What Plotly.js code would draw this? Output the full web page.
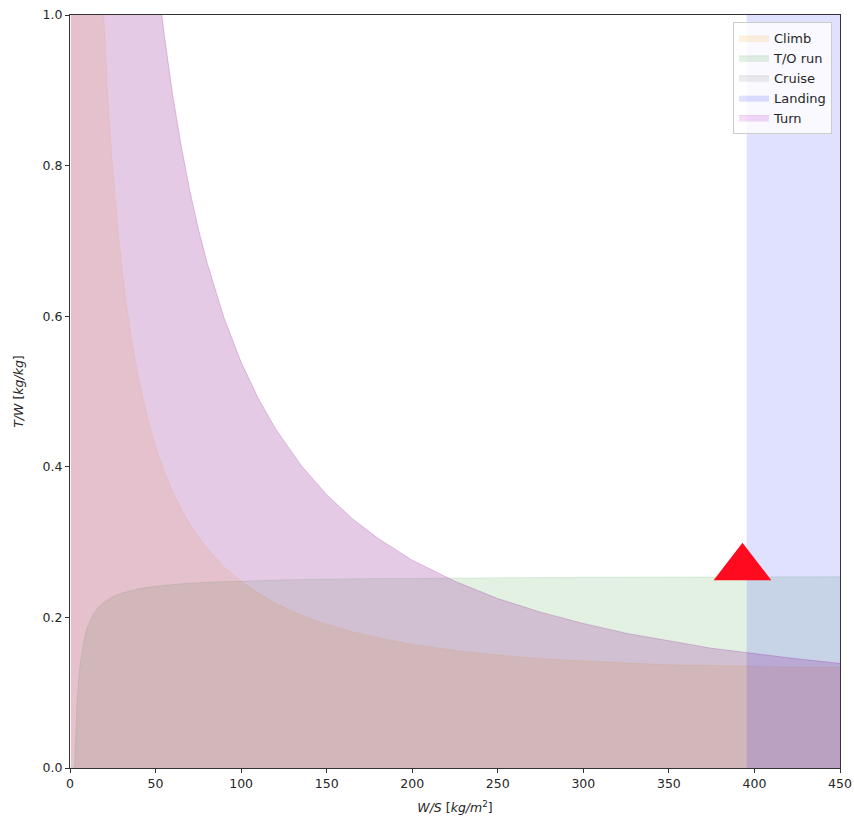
<!DOCTYPE html>
<html>
<head>
<meta charset="utf-8">
<script src="https://cdn.plot.ly/plotly-3.0.1.min.js"></script>
<style>html,body{margin:0;padding:0;background:#fff;}#chart{width:854px;height:817px;}</style>
</head>
<body>
<div id="chart"></div>
<script>
// W/S sample points [kg/m^2]
var wsCurve = [0.5, 2, 5, 10, 15, 18, 20, 22, 24, 26, 28, 30, 33, 36, 40, 45, 50, 55, 60, 65, 70, 75, 80, 90, 100, 110, 120, 135, 150, 165, 180, 200, 225, 250, 275, 300, 325, 350, 375, 400, 425, 450];
// Climb constraint T/W
var climbTW = [36.835, 9.250, 3.734, 1.895, 1.283, 1.078, 0.976, 0.893, 0.824, 0.765, 0.714, 0.671, 0.615, 0.569, 0.518, 0.468, 0.427, 0.394, 0.367, 0.344, 0.324, 0.307, 0.292, 0.267, 0.248, 0.232, 0.219, 0.203, 0.191, 0.181, 0.173, 0.164, 0.156, 0.150, 0.145, 0.142, 0.139, 0.137, 0.136, 0.135, 0.134, 0.134];
// Cruise constraint T/W
var cruiseTW = [106.94, 26.735, 10.694, 5.347, 3.565, 2.971, 2.674, 2.431, 2.229, 2.058, 1.911, 1.784, 1.622, 1.487, 1.339, 1.190, 1.072, 0.975, 0.894, 0.826, 0.767, 0.716, 0.672, 0.598, 0.539, 0.491, 0.451, 0.402, 0.363, 0.331, 0.305, 0.276, 0.248, 0.225, 0.207, 0.192, 0.179, 0.169, 0.159, 0.152, 0.145, 0.139];
// Turn constraint T/W
var turnTW = [106.94, 26.735, 10.694, 5.347, 3.565, 2.971, 2.674, 2.431, 2.229, 2.058, 1.911, 1.784, 1.622, 1.487, 1.339, 1.190, 1.072, 0.975, 0.894, 0.826, 0.767, 0.716, 0.672, 0.598, 0.539, 0.491, 0.451, 0.402, 0.363, 0.331, 0.305, 0.276, 0.248, 0.225, 0.207, 0.192, 0.179, 0.169, 0.159, 0.152, 0.145, 0.139];
// Take-off run
var wsTO = [0, 2.74, 3, 3.5, 4, 5, 6, 8, 10, 13, 16, 20, 25, 30, 40, 50, 65, 80, 100, 130, 170, 220, 300, 380, 450];
var toTW = [0, 0, 0.022, 0.056, 0.081, 0.116, 0.139, 0.168, 0.186, 0.202, 0.212, 0.2205, 0.2275, 0.2322, 0.238, 0.2415, 0.2447, 0.2468, 0.2485, 0.2501, 0.2514, 0.2523, 0.2532, 0.2537, 0.2539];
// Landing limit
var wsLanding = [395.5, 450];
var landingTW = [1, 1];
// Design point
var designWS = [393];
var designTW = [0.266];

var xTicks = [0, 50, 100, 150, 200, 250, 300, 350, 400, 450];
var yTicks = [0, 0.2, 0.4, 0.6, 0.8, 1.0];

function area(name, x, y, fill, lw) {
  return {type: 'scatter', mode: 'lines', name: name, x: x, y: y, fill: 'tozeroy',
    fillcolor: fill, line: {color: fill, width: lw}, hoverinfo: 'skip'};
}

var traces = [
  area('Climb', wsCurve, climbTW, 'rgba(255,165,0,0.13)', 1),
  area('T/O run', wsTO, toTW, 'rgba(0,128,0,0.11)', 1),
  area('Cruise', wsCurve, cruiseTW, 'rgba(128,128,128,0.15)', 1),
  area('Landing', wsLanding, landingTW, 'rgba(0,0,255,0.12)', 0),
  area('Turn', wsCurve, turnTW, 'rgba(191,0,191,0.14)', 1),
  {type: 'scatter', mode: 'markers', x: designWS, y: designTW, showlegend: false, cliponaxis: false,
    marker: {symbol: 'triangle-up', size: 50, color: '#ff0a1e'}, hoverinfo: 'skip'}
];

var axisFont = {family: 'DejaVu Sans', size: 12.5, color: '#262626'};
var layout = {
  width: 854, height: 817,
  margin: {l: 70, r: 14, t: 15, b: 49},
  paper_bgcolor: '#fff', plot_bgcolor: '#fff',
  font: axisFont,
  showlegend: true,
  xaxis: {
    range: [0, 450], tickvals: xTicks, ticks: 'outside', ticklen: 4, tickcolor: '#333',
    showline: true, mirror: true, linecolor: '#333', linewidth: 1,
    showgrid: false, zeroline: false, tickfont: axisFont,
    title: {text: '<i>W/S</i> [<i>kg/m</i><sup>2</sup>]', font: axisFont, standoff: 13}
  },
  yaxis: {
    range: [0, 1], tickvals: yTicks, tickformat: '.1f', ticks: 'outside', ticklen: 4, tickcolor: '#333',
    showline: true, mirror: true, linecolor: '#333', linewidth: 1,
    showgrid: false, zeroline: false, tickfont: axisFont,
    title: {text: '<i>T/W</i> [<i>kg/kg</i>]', font: axisFont, standoff: 16}
  },
  legend: {
    x: 0.9896, y: 0.9907, xanchor: 'right', yanchor: 'top',
    bgcolor: 'rgba(255,255,255,0.8)', bordercolor: '#cccccc', borderwidth: 1,
    font: {family: 'DejaVu Sans', size: 13, color: '#262626'},
    itemwidth: 30, tracegroupgap: 0
  }
};

Plotly.newPlot('chart', traces, layout, {displayModeBar: false, staticPlot: true});
</script>
</body>
</html>
